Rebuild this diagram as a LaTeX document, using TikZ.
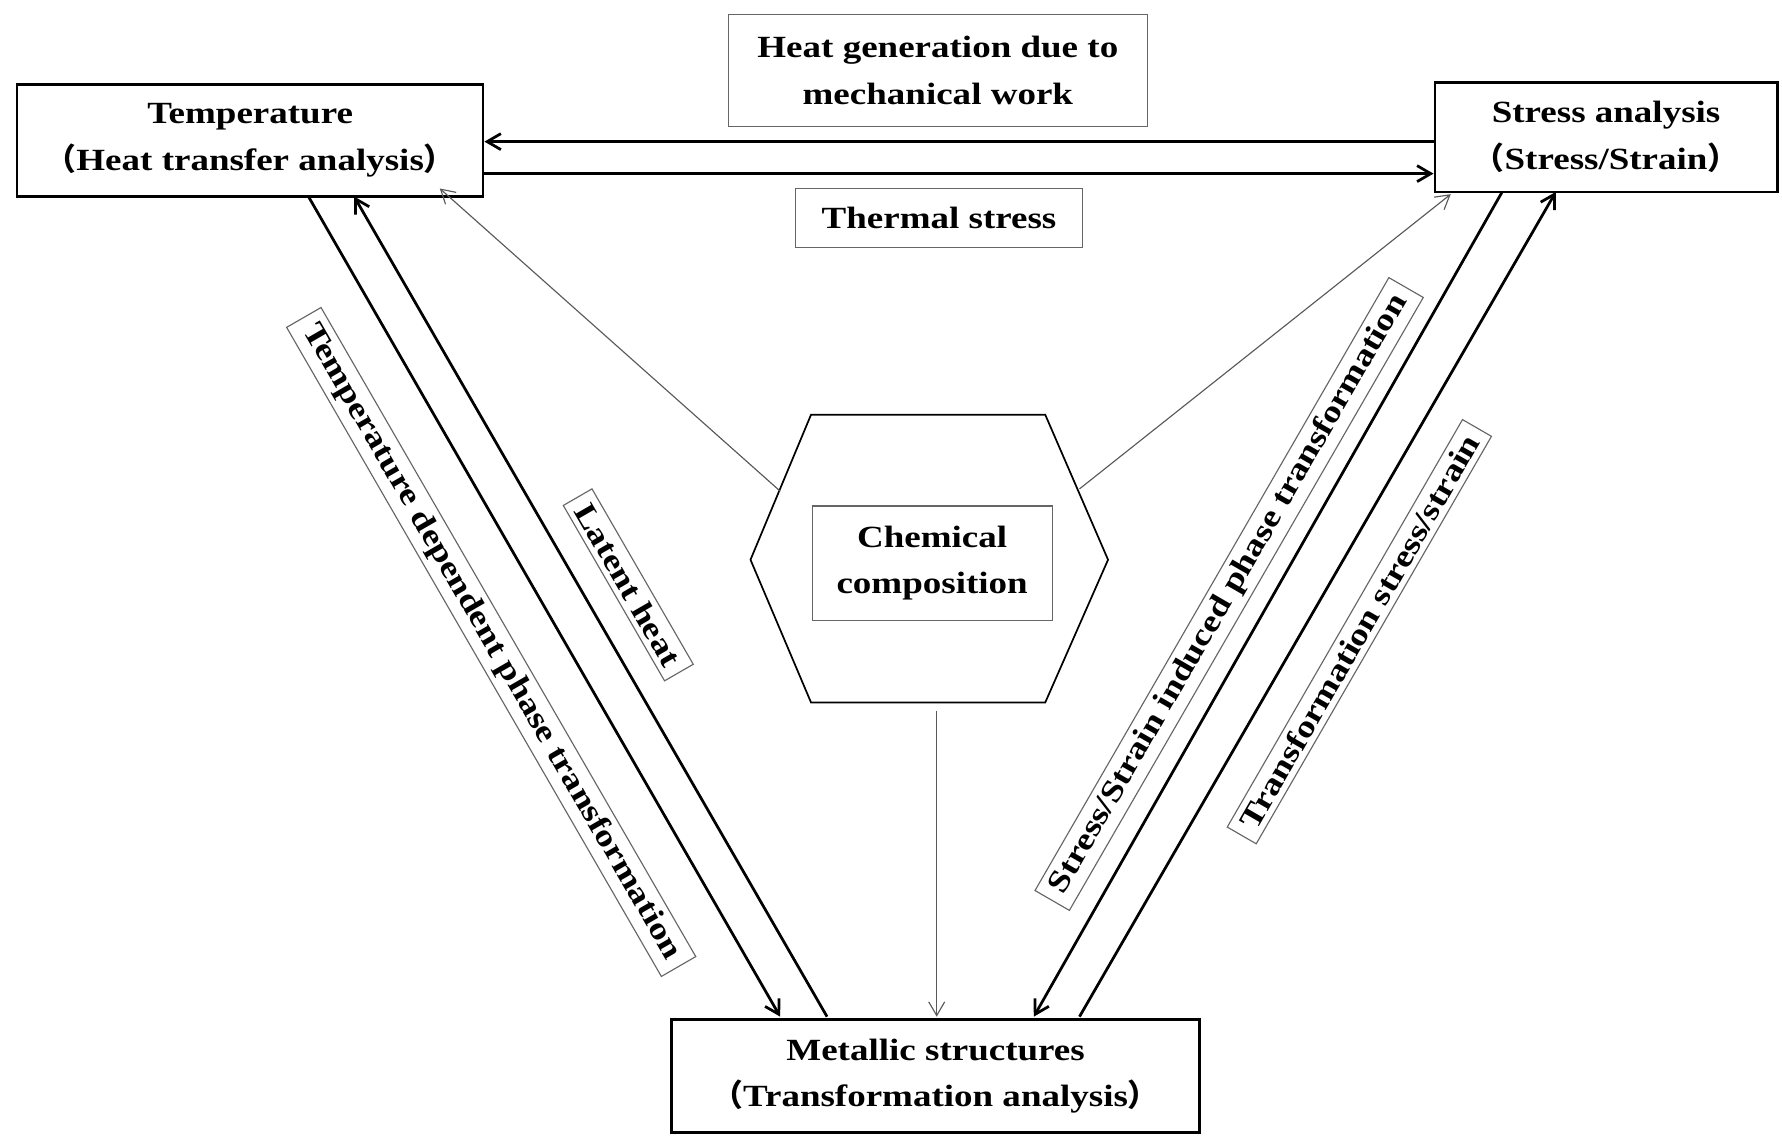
\documentclass[tikz,border=0pt]{standalone}
\usepackage{fontspec}
\setmainfont{Liberation Serif}[FakeStretch=1.2]
\newfontfamily\cjk{Noto Sans CJK SC}
\usetikzlibrary{arrows.meta}
\begin{document}
\begin{tikzpicture}[x=1pt,y=1pt,
  font=\fontsize{27}{41}\selectfont\bfseries,
  box/.style={draw,line width=2.2pt,align=center},
  lab/.style={draw,gray!80!black,line width=1pt,text=black,inner xsep=9pt,inner ysep=5pt,align=center},
  big/.style={line width=2.4pt,-{Straight Barb[length=12pt,width=14pt]}},
  thin/.style={gray!70!black,line width=1pt,-{Straight Barb[length=12pt,width=14pt]}}]
\useasboundingbox (0,0) rectangle (1560,-995);
\node[box,minimum width=408pt,minimum height=98pt] (T) at (219,-123) {Temperature\\{\cjk （}Heat transfer analysis{\cjk ）}};
\node[box,minimum width=300pt,minimum height=96pt] (S) at (1406,-120) {Stress analysis\\{\cjk （}Stress/Strain{\cjk ）}};
\node[box,minimum width=462pt,minimum height=99pt] (M) at (819,-942) {Metallic structures\\{\cjk （}Transformation analysis{\cjk ）}};
\node[lab,minimum width=367pt,minimum height=98pt] (hg) at (821,-62) {Heat generation due to\\mechanical work};
\node[lab,minimum width=251pt,minimum height=52pt] (ts) at (822,-191) {Thermal stress};
\draw[line width=1.5pt] (657,-490) coordinate (h1) -- (710,-363) -- (915,-363) -- (970,-490) -- (915,-615) -- (710,-615) -- cycle;
\node[lab,minimum width=210pt,minimum height=100pt] (C) at (816,-493) {Chemical\\composition};
\coordinate (t1) at (270,-172); \coordinate (m1) at (683,-890);
\coordinate (m2) at (724,-890); \coordinate (t2) at (310,-172);
\coordinate (s1) at (1315,-168); \coordinate (m3) at (905,-890);
\coordinate (m4) at (945,-890); \coordinate (s2) at (1362,-168);
\draw[big] (S.west |- 0,-124) -- (T.east |- 0,-124);
\draw[big] (T.east |- 0,-152) -- (S.west |- 0,-152);
\draw[big] (t1) -- (m1);
\draw[big] (m2) -- (t2);
\draw[big] (s1) -- (m3);
\draw[big] (m4) -- (s2);
\coordinate (hL) at (683,-430); \coordinate (hR) at (945,-428); \coordinate (hB) at (820,-622);
\coordinate (aL) at (385,-165); \coordinate (aR) at (1270,-170); \coordinate (aB) at (820,-890);
\draw[thin] (hL) -- (aL);
\draw[thin] (hR) -- (aR);
\draw[thin] (hB) -- (aB);
\node[lab,rotate=-60] (l1) at (430,-562) {Temperature dependent phase transformation};
\node[lab,rotate=-60] (l2) at (550,-512) {Latent heat};
\node[lab,rotate=60] (l3) at (1076,-520) {Stress/Strain induced phase transformation};
\node[lab,rotate=60] (l4) at (1190,-553) {Transformation stress/strain};
\end{tikzpicture}
\end{document}
